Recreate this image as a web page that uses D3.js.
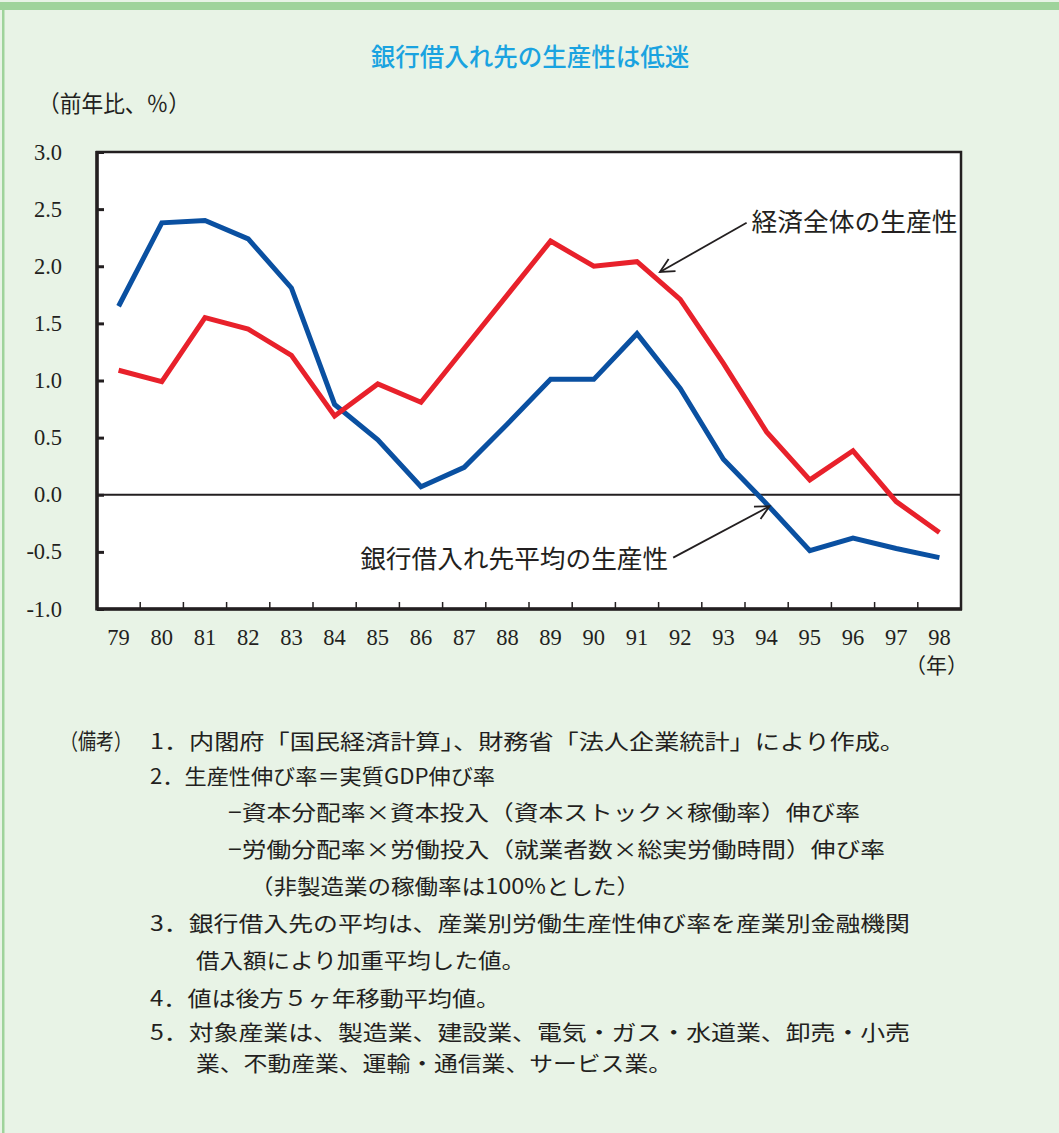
<!DOCTYPE html>
<html>
<head>
<meta charset="utf-8">
<script src="https://cdn.jsdelivr.net/npm/d3@7"></script>
<style>
  html, body { margin: 0; padding: 0; background: #fff; }
  svg { display: block; }
</style>
</head>
<body>
<div id="chart"></div>
<script>
// 年（横軸カテゴリ）
const years = ["79", "80", "81", "82", "83", "84", "85", "86", "87", "88",
               "89", "90", "91", "92", "93", "94", "95", "96", "97", "98"];

// 銀行借入れ先平均の生産性（前年比、%）
const bankBorrowers = [1.65, 2.38, 2.40, 2.24, 1.81, 0.79, 0.48, 0.07, 0.24, 0.62,
                       1.01, 1.01, 1.41, 0.93, 0.31, -0.08, -0.49, -0.38, -0.47, -0.55];

// 経済全体の生産性（前年比、%）
const wholeEconomy = [1.09, 0.99, 1.55, 1.45, 1.22, 0.69, 0.97, 0.81, 1.28, 1.75,
                      2.22, 2.00, 2.04, 1.71, 1.15, 0.55, 0.13, 0.385, -0.06, -0.33];

const yTicks = [-1.0, -0.5, 0.0, 0.5, 1.0, 1.5, 2.0, 2.5, 3.0];

const notes = [
    "1．内閣府「国民経済計算」、財務省「法人企業統計」により作成。",
    "2．生産性伸び率＝実質GDP伸び率",
    "−資本分配率×資本投入（資本ストック×稼働率）伸び率",
    "−労働分配率×労働投入（就業者数×総実労働時間）伸び率",
    "（非製造業の稼働率は100%とした）",
    "3．銀行借入先の平均は、産業別労働生産性伸び率を産業別金融機関",
    "借入額により加重平均した値。",
    "4．値は後方５ヶ年移動平均値。",
    "5．対象産業は、製造業、建設業、電気・ガス・水道業、卸売・小売",
    "業、不動産業、運輸・通信業、サービス業。"
];

const width = 1059;
const height = 1133;
const plot = {left: 97, right: 961, top: 152, bottom: 609};

const jpFont = "'Noto Sans CJK JP', 'Noto Sans', sans-serif";
const numFont = "'Liberation Serif', 'DejaVu Serif', serif";
const ink = "#231f20";

const svg = d3.select("#chart")
    .append("svg")
    .attr("width", width)
    .attr("height", height);

// 背景と枠
svg.append("rect")
    .attr("width", width).attr("height", height)
    .attr("fill", "#e8f3e6");
svg.append("rect")
    .attr("x", 0).attr("y", 2).attr("width", width).attr("height", 8)
    .attr("fill", "#9fd39b");
svg.append("rect")
    .attr("x", 2).attr("y", 2).attr("width", 2.5).attr("height", height)
    .attr("fill", "#9fd39b");

// タイトル
svg.append("text")
    .attr("x", 530).attr("y", 66)
    .attr("text-anchor", "middle")
    .style("font-family", jpFont)
    .style("font-size", "24.5px")
    .style("font-weight", 500)
    .attr("fill", "#1aa3e0")
    .text("銀行借入れ先の生産性は低迷");

svg.append("text")
    .attr("x", 38).attr("y", 112)
    .attr("textLength", 152)
    .attr("lengthAdjust", "spacingAndGlyphs")
    .style("font-family", jpFont)
    .style("font-size", "23px")
    .attr("fill", ink)
    .text("（前年比、％）");

// スケール
const x = d3.scaleBand()
    .domain(years)
    .range([plot.left, plot.right])
    .padding(0);

const y = d3.scaleLinear()
    .domain([-1, 3])
    .range([plot.bottom, plot.top]);

const xc = function (d) { return x(d) + x.bandwidth() / 2; };

svg.append("rect")
    .attr("x", plot.left).attr("y", plot.top)
    .attr("width", plot.right - plot.left)
    .attr("height", plot.bottom - plot.top)
    .attr("fill", "#fff");

// Y軸
const yAxis = svg.append("g")
    .attr("transform", "translate(" + plot.left + ",0)")
    .call(d3.axisRight(y).tickValues(yTicks).tickSize(7).tickFormat(""));
yAxis.select(".domain").remove();
yAxis.selectAll("line").attr("stroke", ink).attr("stroke-width", 3);

svg.append("g")
    .selectAll("text")
    .data(yTicks)
    .enter()
    .append("text")
    .attr("x", 62)
    .attr("y", function (d) { return y(d) + 7.5; })
    .attr("text-anchor", "end")
    .style("font-family", numFont)
    .style("font-size", "22.5px")
    .attr("fill", ink)
    .text(function (d) { return d.toFixed(1); });

// X軸の目盛（カテゴリ境界、内向き）
svg.append("g")
    .selectAll("line")
    .data(years.slice(1))
    .enter()
    .append("line")
    .attr("x1", function (d) { return x(d); })
    .attr("x2", function (d) { return x(d); })
    .attr("y1", plot.bottom)
    .attr("y2", plot.bottom - 7)
    .attr("stroke", ink)
    .attr("stroke-width", 1.5);

svg.append("g")
    .selectAll("text")
    .data(years)
    .enter()
    .append("text")
    .attr("x", xc)
    .attr("y", 645)
    .attr("text-anchor", "middle")
    .style("font-family", numFont)
    .style("font-size", "22.5px")
    .attr("fill", ink)
    .text(function (d) { return d; });

svg.append("text")
    .attr("x", xc("98") - 3).attr("y", 673)
    .attr("text-anchor", "middle")
    .style("font-family", jpFont)
    .style("font-size", "21px")
    .attr("fill", ink)
    .text("（年）");

// ゼロ線
svg.append("line")
    .attr("x1", plot.left).attr("x2", plot.right)
    .attr("y1", y(0)).attr("y2", y(0))
    .attr("stroke", ink)
    .attr("stroke-width", 1.8);

// 系列
const line = d3.line()
    .x(function (d) { return xc(d.year); })
    .y(function (d) { return y(d.value); });

const series = [
    {name: "bank", values: bankBorrowers, color: "#0a50a1"},
    {name: "economy", values: wholeEconomy, color: "#e8212b"}
];

svg.append("g")
    .selectAll("path")
    .data(series)
    .enter()
    .append("path")
    .attr("d", function (s) {
        return line(years.map(function (yr, i) { return {year: yr, value: s.values[i]}; }));
    })
    .attr("fill", "none")
    .attr("stroke", function (s) { return s.color; })
    .attr("stroke-width", 5)
    .attr("stroke-linejoin", "miter");

// 枠線
svg.append("rect")
    .attr("x", plot.left).attr("y", plot.top)
    .attr("width", plot.right - plot.left)
    .attr("height", plot.bottom - plot.top)
    .attr("fill", "none")
    .attr("stroke", ink)
    .attr("stroke-width", 2.5);
svg.append("line")
    .attr("x1", plot.left).attr("x2", plot.left)
    .attr("y1", plot.top - 1).attr("y2", plot.bottom + 1.5)
    .attr("stroke", ink).attr("stroke-width", 3.5);
svg.append("line")
    .attr("x1", plot.left).attr("x2", plot.right + 1)
    .attr("y1", plot.bottom).attr("y2", plot.bottom)
    .attr("stroke", ink).attr("stroke-width", 3.5);

// 注記と矢印
svg.append("defs").append("marker")
    .attr("id", "arrow")
    .attr("markerUnits", "userSpaceOnUse")
    .attr("markerWidth", 20).attr("markerHeight", 20)
    .attr("refX", 16).attr("refY", 8)
    .attr("orient", "auto")
    .append("path")
    .attr("d", "M2,1 L16,8 L2,15")
    .attr("fill", "none")
    .attr("stroke", ink)
    .attr("stroke-width", 1.8);

const step = x.bandwidth();
const annotations = [
    {text: "経済全体の生産性", anchor: "start", len: 206,
     tx: xc("94") - 15, ty: y(2.39) + 9,
     x1: xc("94") - 20, y1: y(2.38), x2: xc("91") + step * 0.53, y2: y(1.95)},
    {text: "銀行借入れ先平均の生産性", anchor: "end", len: 308,
     tx: xc("92") - 12, ty: y(-0.55) + 10,
     x1: xc("92") - 7, y1: y(-0.55), x2: xc("94") + 3, y2: y(-0.1)}
];

svg.append("g")
    .selectAll("line")
    .data(annotations)
    .enter()
    .append("line")
    .attr("x1", function (d) { return d.x1; })
    .attr("y1", function (d) { return d.y1; })
    .attr("x2", function (d) { return d.x2; })
    .attr("y2", function (d) { return d.y2; })
    .attr("stroke", ink)
    .attr("stroke-width", 1.8)
    .attr("marker-end", "url(#arrow)");

svg.append("g")
    .selectAll("text")
    .data(annotations)
    .enter()
    .append("text")
    .attr("x", function (d) { return d.tx; })
    .attr("y", function (d) { return d.ty; })
    .attr("text-anchor", function (d) { return d.anchor; })
    .attr("textLength", function (d) { return d.len; })
    .attr("lengthAdjust", "spacingAndGlyphs")
    .style("font-family", jpFont)
    .style("font-size", "25.5px")
    .attr("fill", ink)
    .text(function (d) { return d.text; });

// 備考
const noteX = [150, 150, 228, 228, 250, 150, 196, 150, 150, 196];
const noteEnd = [905, 495, 860, 885, 640, 910, 525, 500, 910, 672];
const noteY = [749, 784, 820, 857, 894, 931, 968, 1006, 1040, 1071];

svg.append("text")
    .attr("x", 60).attr("y", noteY[0])
    .attr("textLength", 72)
    .attr("lengthAdjust", "spacingAndGlyphs")
    .style("font-family", jpFont)
    .style("font-size", "22px")
    .attr("fill", ink)
    .text("（備考）");

svg.append("g")
    .selectAll("text")
    .data(notes)
    .enter()
    .append("text")
    .attr("x", function (d, i) { return noteX[i]; })
    .attr("y", function (d, i) { return noteY[i]; })
    .attr("textLength", function (d, i) { return noteEnd[i] - noteX[i]; })
    .attr("lengthAdjust", "spacingAndGlyphs")
    .style("font-family", jpFont)
    .style("font-size", "21px")
    .attr("fill", ink)
    .text(function (d) { return d; });
</script>
</body>
</html>
